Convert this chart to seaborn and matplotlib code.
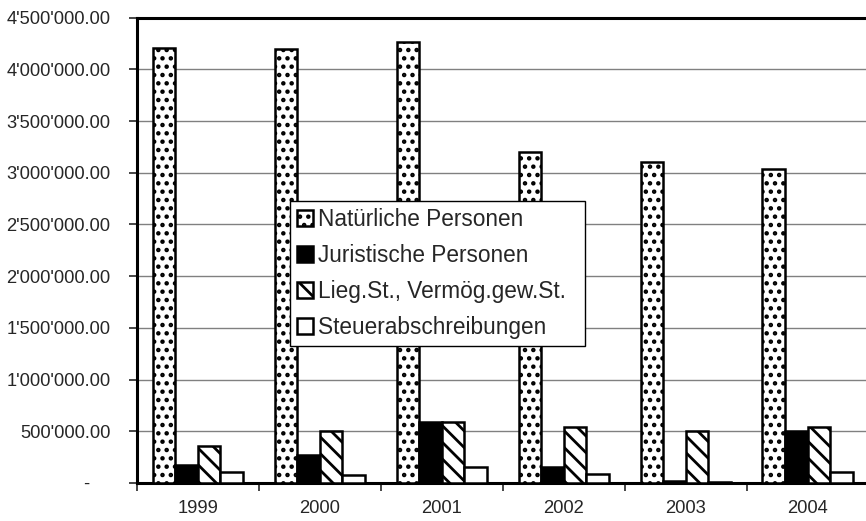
import pandas as pd
import matplotlib
matplotlib.use('Agg')
import matplotlib.pyplot as plt
import matplotlib.ticker as mticker
import seaborn as sns

jahre = ['1999', '2000', '2001', '2002', '2003', '2004']
arten = ['Natürliche Personen', 'Juristische Personen',
         'Lieg.St., Vermög.gew.St.', 'Steuerabschreibungen']

natuerliche = [4204000, 4198000, 4262000, 3205000, 3107000, 3034000]
juristische = [174000, 270000, 587000, 158000, 20000, 506000]
liegenschaft = [361000, 500000, 587000, 545000, 500000, 545000]
abschreibungen = [109000, 77000, 158000, 87000, 12000, 106000]

y_ticks = [0, 500000, 1000000, 1500000, 2000000, 2500000,
           3000000, 3500000, 4000000, 4500000]

rows = []
for art, werte in zip(arten, [natuerliche, juristische, liegenschaft, abschreibungen]):
    for jahr, wert in zip(jahre, werte):
        rows.append({'Jahr': jahr, 'Art': art, 'Wert': wert})
df = pd.DataFrame(rows)

sns.set_style('white')
plt.rcParams['font.family'] = ['Liberation Sans', 'DejaVu Sans']
plt.rcParams['hatch.linewidth'] = 2.0

fig = plt.figure(figsize=(8.66, 5.21), dpi=100)
ax = fig.add_axes([0.158, 0.073, 0.845, 0.893])

palette = {arten[0]: 'white', arten[1]: 'black', arten[2]: 'white', arten[3]: 'white'}
sns.barplot(data=df, x='Jahr', y='Wert', hue='Art', palette=palette,
            width=0.74, edgecolor='black', linewidth=1.8, saturation=1,
            ax=ax, zorder=3)

hatches = ['..', None, '\\\\', None]
for cont, h in zip(ax.containers, hatches):
    for bar in cont:
        if h:
            bar.set_hatch(h)

ax.set_ylim(0, 4500000)
ax.set_xlim(-0.5, 5.5)
ax.set_yticks(y_ticks)


def fmt(v, pos):
    if v == 0:
        return '-    '
    s = f"{v:,.2f}".replace(',', "'")
    return s


ax.yaxis.set_major_formatter(mticker.FuncFormatter(fmt))
ax.grid(axis='y', color='#808080', linewidth=1.0, zorder=0)
ax.set_axisbelow(True)

ax.set_xlabel('')
ax.set_ylabel('')
ax.tick_params(axis='x', which='major', length=0, labelsize=13.2, pad=12)
ax.tick_params(axis='y', which='major', length=6, width=1.2, direction='out',
               labelsize=13.2, left=True, pad=13)
ax.set_xticks([i - 0.5 for i in range(7)], minor=True)
ax.tick_params(axis='x', which='minor', length=6, width=1.2, direction='out', bottom=True)

for side in ['top', 'left', 'bottom']:
    ax.spines[side].set_visible(True)
    ax.spines[side].set_color('black')
    ax.spines[side].set_linewidth(2.2)
ax.spines['right'].set_visible(False)

handles, labels = ax.get_legend_handles_labels()
leg = ax.legend(handles, [lab + '  ' for lab in labels],
                loc='upper left', bbox_to_anchor=(0.21, 0.606), borderaxespad=0,
                fontsize=16.3, frameon=True, fancybox=False, shadow=False,
                handlelength=0.7, handleheight=0.7, handletextpad=0.2,
                labelspacing=0.58, borderpad=0.3, framealpha=1)
leg.get_frame().set_edgecolor('black')
leg.get_frame().set_linewidth(1.0)
leg.set_zorder(5)
for handle, h in zip(leg.legend_handles, hatches):
    handle.set_edgecolor('black')
    handle.set_linewidth(1.8)
    if h:
        handle.set_hatch(h)

plt.savefig('out.png', dpi=100)
